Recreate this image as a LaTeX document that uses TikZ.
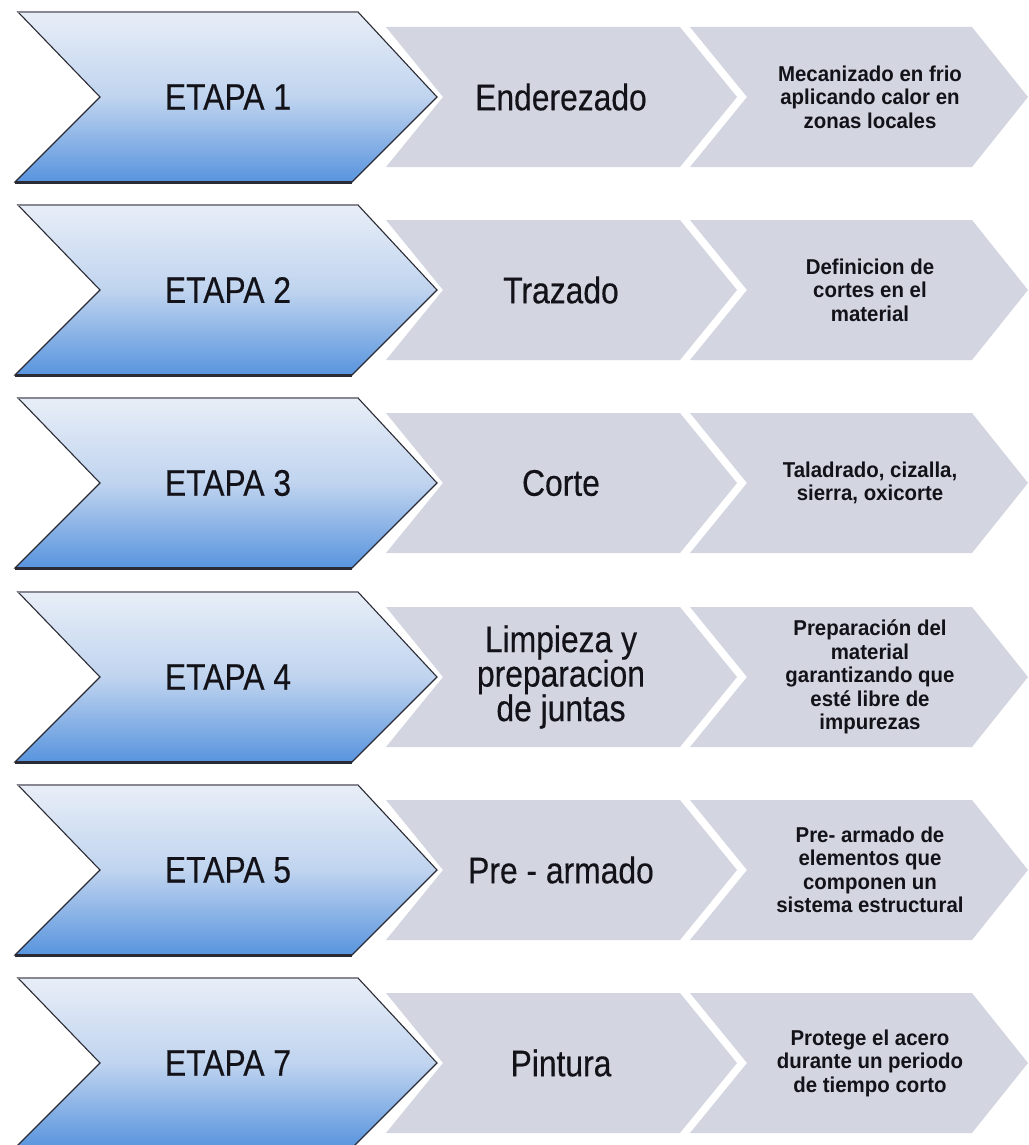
\documentclass[tikz,border=0pt]{standalone}
\usepackage{fontspec}
\setmainfont{Liberation Sans}
\newfontfamily\stagefont[FakeStretch=0.86,FakeBold=0.4]{Liberation Sans}
\newfontfamily\descfont[FakeStretch=0.95]{Liberation Sans}
\definecolor{grayfill}{RGB}{211,214,225}
\definecolor{bluetop}{RGB}{232,238,247}
\definecolor{bluemid}{RGB}{192,212,239}
\definecolor{bluebot}{RGB}{88,148,222}
\definecolor{edgedark}{RGB}{42,42,52}
\definecolor{edgelight}{RGB}{135,135,145}
\definecolor{inktext}{RGB}{18,18,24}
\tikzset{
  bluechev/.style={top color=bluetop, bottom color=bluebot, middle color=bluemid, draw=edgedark, line width=1.1pt, line join=miter},
  graychev/.style={fill=grayfill},
  topedge/.style={draw=edgelight, line width=1.6pt},
  botedge/.style={draw=edgedark, line width=3pt},
  stagetext/.style={font=\stagefont\fontsize{37}{35}\selectfont, text=inktext, align=center},
  steptext/.style={font=\stagefont\fontsize{37}{34.5}\selectfont, text=inktext, align=center},
  desctext/.style={font=\descfont\bfseries\fontsize{21.5}{23.5}\selectfont, text=inktext, align=center}
}
\begin{document}
\begin{tikzpicture}[x=1pt,y=-1pt]
\useasboundingbox (0,0) rectangle (1028,1145);
\fill[white] (0,0) rectangle (1028,1145);
\clip (0,0) rectangle (1028,1145);
\foreach \i/\cy/\stg/\mdl/\dsc in {
  1/97/{ETAPA 1}/{Enderezado}/{Mecanizado en frio\\aplicando calor en\\zonas locales},
  2/290/{ETAPA 2}/{Trazado}/{Definicion de\\cortes en el\\material},
  3/483/{ETAPA 3}/{Corte}/{Taladrado, cizalla,\\sierra, oxicorte},
  4/677/{ETAPA 4}/{Limpieza y\\preparacion\\de juntas}/{Preparación del\\material\\garantizando que\\esté libre de\\impurezas},
  5/870/{ETAPA 5}/{Pre - armado}/{Pre- armado de\\elementos que\\componen un\\sistema estructural},
  6/1063/{ETAPA 7}/{Pintura}/{Protege el acero\\durante un periodo\\de tiempo corto}}{
  % gray chevrons
  \fill[graychev] (386,\cy-70) -- (680,\cy-70) -- (737,\cy) -- (680,\cy+70) -- (386,\cy+70) -- (443,\cy) -- cycle;
  \fill[graychev] (690,\cy-70) -- (972,\cy-70) -- (1028,\cy) -- (972,\cy+70) -- (690,\cy+70) -- (747,\cy) -- cycle;
  % blue chevron
  \draw[bluechev] (18,\cy-85) -- (358,\cy-85) -- (437,\cy) -- (352,\cy+85) -- (15,\cy+85) -- (100,\cy) -- cycle;
  \draw[topedge] (18,\cy-85) -- (358,\cy-85);
  \draw[botedge] (15,\cy+85) -- (352,\cy+85);
  % texts
  \node[stagetext] (stage\i) at (228,\cy) {\stg};
  \node[steptext] (step\i) at (561,\cy) {\mdl};
  \node[desctext] (desc\i) at (870,\cy) {\dsc};
}
\end{tikzpicture}
\end{document}
